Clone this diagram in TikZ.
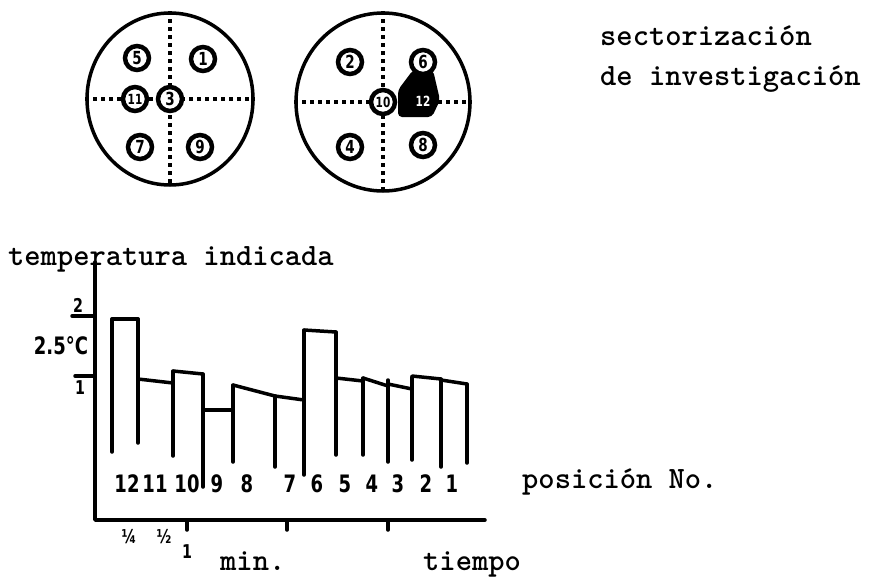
\documentclass[tikz,border=0pt]{standalone}
\usepackage{fontspec}
\newfontfamily\handfont[FakeStretch=0.75]{DejaVu Sans}
\usepackage{tikz}
\usetikzlibrary{
  shapes.geometric,
  positioning
}

\begin{document}
\begin{tikzpicture}[x=1pt,y=-1pt,
  typed/.style={font=\ttfamily\bfseries\fontsize{31}{34}\selectfont,inner sep=0pt,anchor=base west},
  hand/.style={font=\handfont\bfseries\fontsize{24}{26}\selectfont,inner sep=0pt},
  handsmall/.style={font=\handfont\bfseries\fontsize{19}{21}\selectfont,inner sep=0pt},
  spot/.style={circle,draw=black,line width=4.5pt,fill=white,minimum size=24pt,inner sep=0pt,font=\handfont\bfseries\fontsize{18}{20}\selectfont},
  twospot/.style={spot,font=\handfont\bfseries\fontsize{14}{16}\selectfont},
  hotspot/.style={twospot,fill=black,text=white},
  disc/.style={ellipse,draw=black,line width=3.5pt,inner sep=0pt},
  sector/.style={line width=3.5pt,dash pattern=on 3.5pt off 4.5pt},
  trace/.style={line width=3.5pt,line join=round,line cap=round}]
  \useasboundingbox (0,0) rectangle (870,579);

  \node[disc,minimum width=166pt,minimum height=172pt] (odd) at (170,99) {};
  \node[disc,minimum width=174pt,minimum height=178pt] (even) at (383,102) {};
  \draw[sector] (odd.north) -- (odd.south);
  \draw[sector] (odd.west) -- (odd.east);
  \draw[sector] (even.north) -- (even.south);
  \draw[sector] (even.west) -- (even.east);
  \fill[black,rounded corners=4pt] (398,90) -- (413,70) -- (433,70) -- (440,100) -- (432,117) -- (398,117) -- cycle;

  \node[spot] (p5) at (137,58) {5};
  \node[spot] (p1) at (203,59) {1};
  \node[twospot] (p11) at (135,99) {11};
  \node[spot] (p3) at (170,99) {3};
  \node[spot] (p7) at (140,147) {7};
  \node[spot] (p9) at (200,147) {9};
  \node[spot] (p2) at (350,62) {2};
  \node[spot] (p6) at (423,62) {6};
  \node[twospot] (p10) at (383,102) {10};
  \node[hotspot] (p12) at (423,101) {12};
  \node[spot] (p4) at (350,147) {4};
  \node[spot] (p8) at (423,145) {8};

  \node[typed] (sect1) at (600,45) {sectorización};
  \node[typed] (sect2) at ([yshift=-40pt]sect1.base west) {de investigación};

  \node[typed] (ylab) at (8,265) {temperatura indicada};
  \coordinate (o) at (95,520);
  \coordinate (ytop) at (95,262);
  \coordinate (xend) at (485,520);
  \draw[trace] (ytop) -- (o) -- (xend);

  \coordinate (yt1) at (95,316);
  \coordinate (yt2) at (95,376);
  \draw[trace] (yt1) -- +(-23,0);
  \draw[trace] (yt2) -- +(-20,0);
  \node[handsmall] (yv1) at (78,305) {2};
  \node[hand] (yscale) at (61,346) {2.5°C};
  \node[handsmall] (yv2) at (80,388) {1};

  \foreach \x in {187,287,388}
    \draw[trace] (\x,520) -- ++(0,10);
  \node[handsmall] (q1) at (129,537) {¼};
  \node[handsmall] (q2) at (164,537) {½};
  \node[handsmall] (m1) at (187,552) {1};

  \foreach \x/\top/\bot in {112/319/452,138/319/443,173/371/456,203/374/487,233/385/462,275/396/467,304/330/475,336/332/455,363/378/455,388/380/462,412/377/460,441/379/467,467/384/463}
    \draw[trace] (\x,\top) -- (\x,\bot);
  \foreach \a/\ya/\b/\yb in {112/319/138/319,138/379/173/383,173/371/203/374,203/410/233/410,233/385/275/396,275/396/304/400,304/330/336/332,336/378/363/381,363/378/388/386,388/384/412/389,412/376/441/379,441/380/467/384}
    \draw[trace] (\a,\ya) -- (\b,\yb);

  \foreach \n/\x in {12/127,11/155,10/187,9/217,8/247,7/290,6/317,5/345,4/372,3/398,2/426,1/452}
    \node[hand] (b\n) at (\x,484) {\n};

  \node[typed] (poslab) at (522,488) {posición No.};
  \node[typed] (minlab) at (220,570) {min.};
  \node[typed] (tlab) at (423,570) {tiempo};
\end{tikzpicture}
\end{document}
